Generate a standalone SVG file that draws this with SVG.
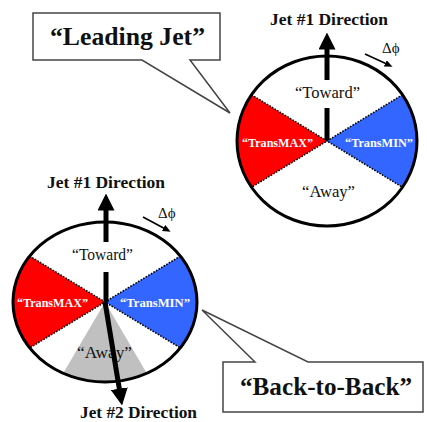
<svg xmlns="http://www.w3.org/2000/svg" width="427" height="422" viewBox="0 0 427 422">
  <style>
    .rim { fill: none; stroke: #000; stroke-width: 3; vector-effect: non-scaling-stroke; }
    .edge { fill: none; stroke: #000; stroke-width: 1.6; stroke-dasharray: 1.6 1.4; vector-effect: non-scaling-stroke; }
    .max { fill: #ff0000; }
    .min { fill: #3366ff; }
    .gray { fill: #c0c0c0; }
    .jet { stroke: #000; stroke-width: 5; fill: none; }
    .dphi { stroke: #000; stroke-width: 1.6; fill: none; }
    .callout { fill: #fff; stroke: #444; stroke-width: 1.5; stroke-linejoin: miter; }
    .region { font-family: "Liberation Serif", "Times New Roman", serif; font-size: 16px; fill: #111; text-anchor: middle; }
    .trans { font-family: "Liberation Serif", "Times New Roman", serif; font-size: 12px; font-weight: bold; fill: #fff; text-anchor: middle; }
    .dir { font-family: "Liberation Serif", "Times New Roman", serif; font-size: 17px; font-weight: bold; fill: #111; }
    .sym { font-family: "Liberation Serif", "Times New Roman", serif; font-size: 15px; fill: #111; }
    .big { font-family: "Liberation Serif", "Times New Roman", serif; font-size: 25px; font-weight: bold; fill: #111; text-anchor: middle; }
  </style>
  <defs>
    <marker id="head" viewBox="0 0 17 17" markerWidth="17" markerHeight="17" refX="0.5" refY="8.5" markerUnits="userSpaceOnUse" orient="auto">
      <path d="M0,0 L17,8.5 L0,17 Z" fill="#000"/>
    </marker>
    <marker id="tiny" viewBox="0 0 8 7" markerWidth="8" markerHeight="7" refX="0.5" refY="3.5" markerUnits="userSpaceOnUse" orient="auto">
      <path d="M0,0 L8,3.5 L0,7 Z" fill="#000"/>
    </marker>
  </defs>

  <!-- Leading-jet region wheel -->
  <g id="wheel-leading">
    <g transform="translate(327,141) scale(1,0.944)">
      <circle r="90" fill="#fff"/>
      <path class="max" d="M0,0 L-75.5,-49 A90,90 0 0 0 -75.5,49 Z"/>
      <path class="min" d="M0,0 L75.5,-49 A90,90 0 0 1 75.5,49 Z"/>
      <path class="edge" d="M-75.5,-49 L0,0 L-75.5,49 M75.5,-49 L0,0 L75.5,49"/>
      <circle class="rim" r="90"/>
    </g>
    <text class="region" x="327.5" y="98" textLength="65" lengthAdjust="spacingAndGlyphs">“Toward”</text>
    <text class="region" x="328.5" y="197" textLength="53" lengthAdjust="spacingAndGlyphs">“Away”</text>
    <text class="trans" x="277.5" y="147" textLength="71" lengthAdjust="spacingAndGlyphs">“TransMAX”</text>
    <text class="trans" x="379" y="147" textLength="68" lengthAdjust="spacingAndGlyphs">“TransMIN”</text>
    <text class="dir" x="270" y="25" textLength="118" lengthAdjust="spacingAndGlyphs">Jet #1 Direction</text>
    <text class="sym" x="382" y="53">Δϕ</text>
  </g>

  <!-- Back-to-back region wheel -->
  <g id="wheel-b2b">
    <g transform="translate(105,302) scale(1,0.87)">
      <circle r="92" fill="#fff"/>
      <path class="max" d="M0,0 L-75.4,-52.8 A92,92 0 0 0 -75.4,52.8 Z"/>
      <path class="min" d="M0,0 L75.4,-52.8 A92,92 0 0 1 75.4,52.8 Z"/>
      <path class="gray" d="M0,0 L-41.8,82 A92,92 0 0 0 41.8,82 Z"/>
      <path class="edge" d="M-75.4,-52.8 L0,0 L-75.4,52.8 M75.4,-52.8 L0,0 L75.4,52.8"/>
      <circle class="rim" r="92"/>
    </g>
    <text class="region" x="102.5" y="260" textLength="61" lengthAdjust="spacingAndGlyphs">“Toward”</text>
    <text class="region" x="104.5" y="358" textLength="55" lengthAdjust="spacingAndGlyphs">“Away”</text>
    <text class="trans" x="52.5" y="307" textLength="71" lengthAdjust="spacingAndGlyphs">“TransMAX”</text>
    <text class="trans" x="155" y="307" textLength="70" lengthAdjust="spacingAndGlyphs">“TransMIN”</text>
    <text class="dir" x="47" y="188" textLength="118" lengthAdjust="spacingAndGlyphs">Jet #1 Direction</text>
    <text class="dir" x="80" y="418" textLength="117" lengthAdjust="spacingAndGlyphs">Jet #2 Direction</text>
    <text class="sym" x="158" y="218">Δϕ</text>
  </g>

  <!-- Callout labels -->
  <g id="callout-leading">
    <path class="callout" d="M142,60 L33,60 L33,13 L220,13 L220,60 L190,60 L230,113 Z"/>
    <text class="big" x="127.5" y="45" textLength="155" lengthAdjust="spacingAndGlyphs">“Leading Jet”</text>
  </g>
  <g id="callout-b2b">
    <path class="callout" d="M255,362 L202,310 L308,362 L423,362 L423,412 L223,412 L223,362 Z"/>
    <text class="big" x="326" y="395" textLength="172" lengthAdjust="spacingAndGlyphs">“Back-to-Back”</text>
  </g>

  <!-- Jet direction and Δϕ arrows -->
  <g id="connectors">
    <line class="jet" x1="327" y1="80" x2="327" y2="49" marker-end="url(#head)"/>
    <line class="jet" x1="327" y1="108" x2="327" y2="140"/>
    <line class="dphi" x1="365" y1="54" x2="385.7" y2="63.6" marker-end="url(#tiny)"/>

    <line class="jet" x1="106" y1="242" x2="106" y2="210" marker-end="url(#head)"/>
    <line class="jet" x1="106" y1="272" x2="106" y2="302"/>
    <line class="jet" x1="105" y1="302" x2="119.4" y2="389.2" marker-end="url(#head)"/>
    <line class="dphi" x1="143" y1="217" x2="164" y2="228.2" marker-end="url(#tiny)"/>
  </g>
</svg>
